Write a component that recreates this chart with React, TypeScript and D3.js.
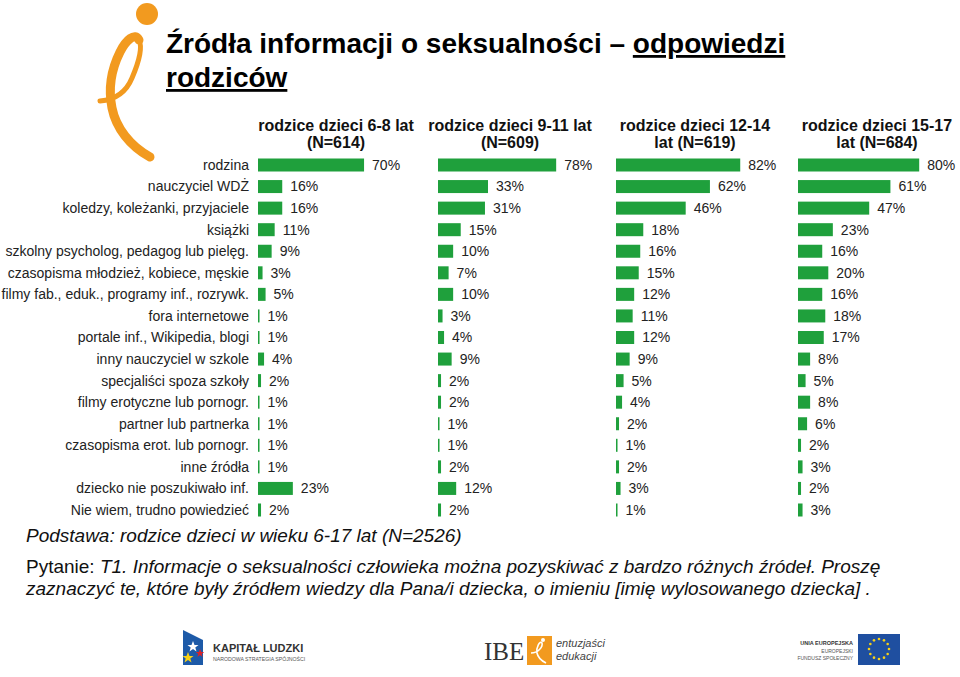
import React from "react";
import * as d3 from "d3";

const categories = [
  "rodzina",
  "nauczyciel WDŻ",
  "koledzy, koleżanki, przyjaciele",
  "książki",
  "szkolny psycholog, pedagog lub pielęg.",
  "czasopisma młodzież, kobiece, męskie",
  "filmy fab., eduk., programy inf., rozrywk.",
  "fora internetowe",
  "portale inf., Wikipedia, blogi",
  "inny nauczyciel w szkole",
  "specjaliści spoza szkoły",
  "filmy erotyczne lub pornogr.",
  "partner lub partnerka",
  "czasopisma erot. lub pornogr.",
  "inne źródła",
  "dziecko nie poszukiwało inf.",
  "Nie wiem, trudno powiedzieć",
];

const values6to8 = [70, 16, 16, 11, 9, 3, 5, 1, 1, 4, 2, 1, 1, 1, 1, 23, 2];
const values9to11 = [78, 33, 31, 15, 10, 7, 10, 3, 4, 9, 2, 2, 1, 1, 2, 12, 2];
const values12to14 = [82, 62, 46, 18, 16, 15, 12, 11, 12, 9, 5, 4, 2, 1, 2, 3, 1];
const values15to17 = [80, 61, 47, 23, 16, 20, 16, 18, 17, 8, 5, 8, 6, 2, 3, 2, 3];

const panelTitles = [
  ["rodzice dzieci 6-8 lat", "(N=614)"],
  ["rodzice dzieci 9-11 lat", "(N=609)"],
  ["rodzice dzieci 12-14", "lat (N=619)"],
  ["rodzice dzieci 15-17", "lat (N=684)"],
];

const FONT = "'Liberation Sans', Arial, Helvetica, sans-serif";
const GREEN = "#1fa03c";
const ORANGE = "#F29A1F";

export default function App() {
  const allSeries = [values6to8, values9to11, values12to14, values15to17];
  const panelX = [258, 438, 616, 798];
  const headerX = [336, 510, 695, 877];

  const y = d3.scalePoint<string>().domain(categories).range([165, 510]);
  const x = d3.scaleLinear().domain([0, 100]).range([0, 151.5]);
  const barH = 13;

  const euStars = d3.range(12).map((i) => {
    const a = (i / 12) * 2 * Math.PI;
    return [879 + Math.cos(a) * 10, 649 + Math.sin(a) * 10];
  });

  return (
    <svg
      width={960}
      height={677}
      style={{ position: "absolute", left: 0, top: 0, fontFamily: FONT }}
    >
      <rect x={0} y={0} width={960} height={677} fill="#fff" />

      {/* logo */}
      <g>
        <circle cx={147} cy={14} r={11} fill={ORANGE} />
        <path
          d="M 100 101 C 112 100, 125 95, 132 78 C 138 64, 143 48, 139 40"
          fill="none"
          stroke={ORANGE}
          strokeWidth={5}
          strokeLinecap="round"
        />
        <path
          d="M 139 40 C 135 32, 126 40, 120 52 C 112 68, 108 88, 112 108 C 116 128, 130 146, 150 157"
          fill="none"
          stroke={ORANGE}
          strokeWidth={9}
          strokeLinecap="round"
        />
      </g>

      {/* title */}
      <text x={166} y={53} fontSize={28} fontWeight="bold" fill="#000">
        Źródła informacji o seksualności –{" "}
        <tspan textDecoration="underline">odpowiedzi</tspan>
      </text>
      <text x={166} y={87} fontSize={28} fontWeight="bold" fill="#000" textDecoration="underline">
        rodziców
      </text>

      {/* category labels */}
      {categories.map((c) => (
        <text
          key={c}
          x={249}
          y={y(c)!}
          dy="0.35em"
          textAnchor="end"
          fontSize={14}
          fill="#222"
        >
          {c}
        </text>
      ))}

      {/* panels */}
      {allSeries.map((vals, p) => (
        <g key={p} transform={`translate(${panelX[p]},0)`}>
          <text
            x={headerX[p] - panelX[p]}
            y={131}
            textAnchor="middle"
            fontSize={16}
            fontWeight="bold"
            fill="#111"
          >
            {panelTitles[p][0]}
          </text>
          <text
            x={headerX[p] - panelX[p]}
            y={148}
            textAnchor="middle"
            fontSize={16}
            fontWeight="bold"
            fill="#111"
          >
            {panelTitles[p][1]}
          </text>
          {vals.map((v, i) => (
            <g key={i}>
              <rect
                x={0}
                y={y(categories[i])! - barH / 2}
                width={x(v)}
                height={barH}
                fill={GREEN}
              />
              <text
                x={x(v) + 8}
                y={y(categories[i])!}
                dy="0.35em"
                fontSize={14}
                fill="#222"
              >
                {v}%
              </text>
            </g>
          ))}
        </g>
      ))}

      {/* footnotes */}
      <text x={26} y={542} fontSize={19} fontStyle="italic" fill="#111">
        Podstawa: rodzice dzieci w wieku 6-17 lat (N=2526)
      </text>
      <text x={26} y={573} fontSize={19} fill="#111">
        Pytanie:{" "}
        <tspan fontStyle="italic">
          T1. Informacje o seksualności człowieka można pozyskiwać z bardzo różnych źródeł. Proszę
        </tspan>
      </text>
      <text x={26} y={595} fontSize={19} fontStyle="italic" fill="#111">
        zaznaczyć te, które były źródłem wiedzy dla Pana/i dziecka, o imieniu [imię wylosowanego dziecka] .
      </text>

      {/* Kapitał Ludzki logo */}
      <g>
        <path d="M 183 630 L 203 640 L 203 665 L 183 665 Z" fill="#1d5aa8" />
        <path d="M 193 641 l 1.5 4 4 0 -3.2 2.5 1.2 4 -3.5 -2.5 -3.5 2.5 1.2 -4 -3.2 -2.5 4 0 z" fill="#fff" />
        <path d="M 188 652 l 1.5 4 4 0 -3.2 2.5 1.2 4 -3.5 -2.5 -3.5 2.5 1.2 -4 -3.2 -2.5 4 0 z" fill="#f7d117" />
        <path d="M 200 649 l 1.2 3 3 0 -2.5 2 1 3 -2.7 -2 -2.7 2 1 -3 -2.5 -2 3 0 z" fill="#d8232a" />
        <text x={213} y={652} fontSize={11} fontWeight="bold" fill="#333">
          KAPITAŁ LUDZKI
        </text>
        <text x={213} y={661} fontSize={5.2} fill="#555">
          NARODOWA STRATEGIA SPÓJNOŚCI
        </text>
      </g>

      {/* IBE logo */}
      <g>
        <text x={484} y={660} fontSize={25} fontFamily="'Liberation Serif', 'DejaVu Serif', serif" fill="#333">
          IBE
        </text>
        <rect x={527} y={636} width={25} height={29} fill={ORANGE} />
        <circle cx={543} cy={640} r={2} fill="#fff" />
        <path d="M 531 653 C 538 653, 543 647, 542 643 C 540 640, 536 647, 537 653 C 538 658, 542 661, 546 663" fill="none" stroke="#fff" strokeWidth={1.6} />
        <text x={556} y={647} fontSize={11} fontStyle="italic" fill="#444">
          entuzjaści
        </text>
        <text x={556} y={660} fontSize={11} fontStyle="italic" fill="#444">
          edukacji
        </text>
      </g>

      {/* EU logo */}
      <g>
        <text x={853} y={645} fontSize={5.5} fontWeight="bold" textAnchor="end" fill="#333">
          UNIA EUROPEJSKA
        </text>
        <text x={853} y={653} fontSize={5} textAnchor="end" fill="#555">
          EUROPEJSKI
        </text>
        <text x={853} y={660} fontSize={5} textAnchor="end" fill="#555">
          FUNDUSZ SPOŁECZNY
        </text>
        <rect x={858} y={634} width={42} height={31} fill="#1f4fa0" />
        {euStars.map((s, i) => (
          <circle key={i} cx={s[0]} cy={s[1]} r={1.3} fill="#f7d117" />
        ))}
      </g>
    </svg>
  );
}
